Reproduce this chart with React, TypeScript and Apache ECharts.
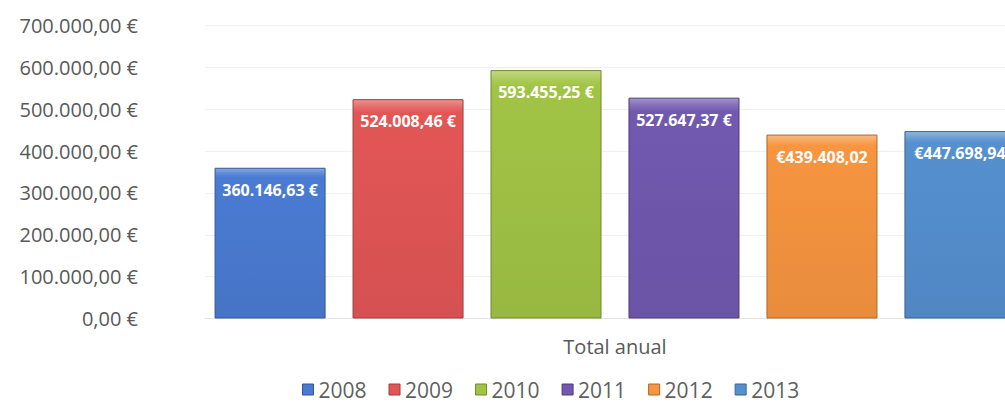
import React, { useEffect, useRef } from "react";
import * as echarts from "echarts";

const categories = ["Total anual"];
const years = ["2008", "2009", "2010", "2011", "2012", "2013"];
const values = [360146.63, 524008.46, 593455.25, 527647.37, 439408.02, 447698.94];
const labelEuroPosition = ["suffix", "suffix", "suffix", "suffix", "prefix", "prefix"];
const colors = ["#4a7bd3", "#e35656", "#a2c445", "#7159b0", "#f79540", "#5590cf"];
const yTicks = { min: 0, max: 700000, interval: 100000 };

function fmt(v: number): string {
  const fixed = Math.abs(v).toFixed(2);
  const [intPart, dec] = fixed.split(".");
  const withDots = intPart.replace(/\B(?=(\d{3})+(?!\d))/g, ".");
  return withDots + "," + dec;
}

function shade(hex: string, amt: number): string {
  const n = parseInt(hex.slice(1), 16);
  let r = (n >> 16) & 255, g = (n >> 8) & 255, b = n & 255;
  const f = (c: number) =>
    Math.max(0, Math.min(255, Math.round(amt >= 0 ? c + (255 - c) * amt : c * (1 + amt))));
  r = f(r); g = f(g); b = f(b);
  return "#" + ((1 << 24) + (r << 16) + (g << 8) + b).toString(16).slice(1);
}

const FONT = "'Open Sans', 'Noto Sans', sans-serif";
const CHART_W = 1040;

export default function App() {
  const ref = useRef<HTMLDivElement>(null);
  useEffect(() => {
    if (!ref.current) return;
    const chart = echarts.init(ref.current, null, { renderer: "svg" });
    const series = years.map((y, i) => ({
      name: y,
      type: "bar",
      data: [values[i]],
      barWidth: 111,
      barGap: "24.3%",
      itemStyle: {
        color: {
          type: "linear",
          x: 0, y: 0, x2: 0, y2: 1,
          colorStops: [
            { offset: 0, color: shade(colors[i], 0.35) },
            { offset: 0.035, color: shade(colors[i], 0.12) },
            { offset: 0.06, color: colors[i] },
            { offset: 1, color: shade(colors[i], -0.06) },
          ],
        },
        borderColor: shade(colors[i], -0.3),
        borderWidth: 1,
      },
      label: {
        show: true,
        position: "insideTop",
        distance: 14,
        color: "#ffffff",
        fontWeight: "bold",
        fontSize: 16,
        fontFamily: FONT,
        formatter: (p: any) =>
          labelEuroPosition[i] === "prefix" ? "€" + fmt(p.value) : fmt(p.value) + " €",
      },
    }));
    chart.setOption({
      animation: false,
      backgroundColor: "#ffffff",
      color: colors,
      grid: { left: 205, top: 25.5, width: 820, bottom: 88.5, containLabel: false },
      legend: {
        data: years.map((y, i) => ({
          name: y,
          itemStyle: { color: colors[i], borderColor: shade(colors[i], -0.3), borderWidth: 1 },
        })),
        left: 297,
        top: 374,
        icon: "rect",
        itemWidth: 11,
        itemHeight: 11,
        itemGap: 22,
        textStyle: { fontSize: 21, color: "#5f5f5f", fontFamily: FONT },
      },
      xAxis: {
        type: "category",
        data: categories,
        axisLine: { show: true, lineStyle: { color: "#e3e3e3" } },
        axisTick: { show: false },
        axisLabel: { fontSize: 20, color: "#595959", fontFamily: FONT, margin: 18 },
      },
      yAxis: {
        type: "value",
        min: yTicks.min,
        max: yTicks.max,
        interval: yTicks.interval,
        axisLine: { show: false },
        axisTick: { show: false },
        splitLine: { lineStyle: { color: "#f0f0f0" } },
        axisLabel: {
          fontSize: 20,
          color: "#595959",
          fontFamily: FONT,
          margin: 67,
          formatter: (v: number) => fmt(v) + " €",
        },
      },
      series,
    });
    return () => chart.dispose();
  }, []);
  return (
    <div style={{ position: "absolute", left: 0, top: 0, width: 1005, height: 407, overflow: "hidden", background: "#fff" }}>
      <div ref={ref} style={{ width: CHART_W, height: 407 }} />
    </div>
  );
}
